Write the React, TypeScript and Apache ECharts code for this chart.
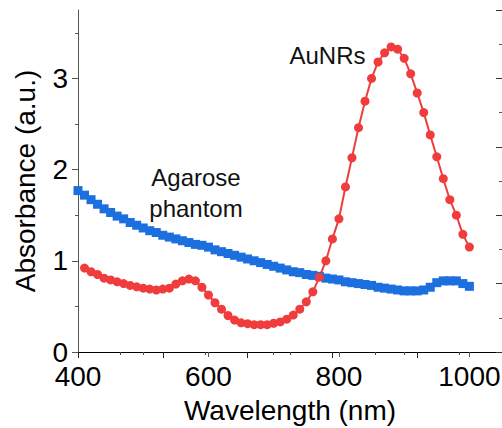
import React, { useEffect, useRef } from "react";
import * as echarts from "echarts";

const FONT = "'Liberation Sans', Arial, sans-serif";

const blueWavelengths = [
  400, 410, 420, 430, 440, 450, 460, 470, 480, 490, 500, 510, 520, 530, 540, 550, 560, 570, 580, 590,
  600, 610, 620, 630, 640, 650, 660, 670, 680, 690, 700, 710, 720, 730, 740, 750, 760, 770, 780, 790,
  800, 810, 820, 830, 840, 850, 860, 870, 880, 890, 900, 910, 920, 930, 940, 950, 960, 970, 980, 990, 1000,
];
const agaroseValues = [
  1.77, 1.72, 1.67, 1.62, 1.57, 1.53, 1.49, 1.46, 1.42, 1.39, 1.36, 1.33, 1.31, 1.28, 1.26, 1.24, 1.22, 1.2, 1.18, 1.17,
  1.15, 1.12, 1.1, 1.08, 1.06, 1.04, 1.02, 1.0, 0.98, 0.96, 0.94, 0.92, 0.9, 0.88, 0.87, 0.85, 0.84, 0.83, 0.81, 0.8,
  0.79, 0.77, 0.76, 0.75, 0.74, 0.73, 0.71, 0.7, 0.69, 0.68, 0.67, 0.67, 0.67, 0.68, 0.71, 0.76, 0.78, 0.78, 0.78, 0.75, 0.72,
];

const redWavelengths = [
  410, 420, 430, 440, 450, 460, 470, 480, 490, 500, 510, 520, 530, 540, 550, 560, 570, 580, 590,
  600, 610, 620, 630, 640, 650, 660, 670, 680, 690, 700, 710, 720, 730, 740, 750, 760, 770, 780, 790,
  800, 810, 820, 830, 840, 850, 860, 870, 880, 890, 900, 910, 920, 930, 940, 950, 960, 970, 980, 990, 1000,
];
const aunrValues = [
  0.92, 0.88, 0.85, 0.81, 0.79, 0.77, 0.75, 0.73, 0.715, 0.7, 0.69, 0.68, 0.69, 0.7, 0.745, 0.78, 0.8, 0.78, 0.71,
  0.625, 0.54, 0.47, 0.4, 0.35, 0.32, 0.31, 0.3, 0.3, 0.3, 0.315, 0.33, 0.36, 0.405, 0.47, 0.55, 0.66, 0.82, 1.0, 1.24,
  1.46, 1.81, 2.13, 2.46, 2.75, 3.0, 3.18, 3.28, 3.345, 3.32, 3.22, 3.05, 2.84, 2.625, 2.38, 2.14, 1.9, 1.67, 1.5, 1.29, 1.15,
];

const xMajorTicks = [400, 600, 800, 1000];
const xMinorTicks = [500, 700, 900];
const yMajorTicks = [0, 1, 2, 3];
const yMinorTicks = [0.5, 1.5, 2.5, 3.5];

const xName = "Wavelength (nm)";
const yName = "Absorbance (a.u.)";
const aunrLabel = "AuNRs";
const agaroseLabel = ["Agarose", "phantom"];

const RED = "#F03C3C";
const BLUE = "#1C6FDE";

export default function App() {
  const ref = useRef<HTMLDivElement>(null);
  useEffect(() => {
    if (!ref.current) return;
    const chart = echarts.init(ref.current, undefined, { renderer: "svg" });
    const axisGray = "#555";
    chart.setOption({
      animation: false,
      backgroundColor: "#fff",
      textStyle: { fontFamily: FONT },
      grid: { left: 78, right: 0, top: 10, bottom: 76, containLabel: false, outerBoundsMode: "none" },
      xAxis: [
        {
          type: "value",
          position: "bottom",
          min: 400,
          max: 1050,
          interval: 200,
          splitLine: { show: false },
          axisLine: { show: true, lineStyle: { color: axisGray, width: 1 } },
          axisTick: { show: true, customValues: xMajorTicks, length: 5, lineStyle: { color: axisGray } },
          axisLabel: {
            customValues: xMajorTicks,
            formatter: (v: number) => String(v),
            margin: 13,
            fontSize: 28,
            lineHeight: 22,
            color: "#000",
            fontFamily: FONT,
          },
          name: xName,
          nameLocation: "middle",
          nameGap: 44,
          nameTextStyle: { fontSize: 28, color: "#000", fontFamily: FONT },
        },
        {
          type: "value",
          position: "bottom",
          min: 400,
          max: 1050,
          interval: 100,
          splitLine: { show: false },
          axisLine: { show: false },
          axisTick: { show: true, customValues: xMinorTicks, length: 3, lineStyle: { color: axisGray } },
          axisLabel: { show: false },
        },
        {
          type: "value",
          position: "top",
          min: 0,
          max: 5,
          interval: 1,
          splitLine: { show: false },
          axisLine: { show: true, lineStyle: { color: "#000", width: 1 } },
          axisTick: { show: true, inside: true, length: 6, lineStyle: { color: "#222" } },
          minorTick: { show: true, splitNumber: 2, length: 3, lineStyle: { color: "#444" } },
          axisLabel: { show: false },
        },
      ],
      yAxis: [
        {
          type: "value",
          position: "left",
          min: 0,
          max: 3.75,
          interval: 1,
          splitLine: { show: false },
          axisLine: { show: true, lineStyle: { color: axisGray, width: 1 } },
          axisTick: { show: true, customValues: yMajorTicks, length: 6, lineStyle: { color: axisGray } },
          axisLabel: {
            customValues: yMajorTicks,
            formatter: (v: number) => String(v),
            margin: 10,
            fontSize: 28,
            lineHeight: 20,
            color: "#000",
            fontFamily: FONT,
          },
          name: yName,
          nameLocation: "middle",
          nameGap: 39,
          nameRotate: 90,
          nameTextStyle: { fontSize: 28, color: "#000", fontFamily: FONT },
        },
        {
          type: "value",
          position: "left",
          min: 0,
          max: 3.75,
          interval: 0.5,
          splitLine: { show: false },
          axisLine: { show: false },
          axisTick: { show: true, customValues: yMinorTicks, length: 3, lineStyle: { color: axisGray } },
          axisLabel: { show: false },
        },
        {
          type: "value",
          position: "right",
          min: 0,
          max: 5,
          interval: 1,
          splitLine: { show: false },
          axisLine: { show: false },
          axisTick: { show: true, inside: true, length: 6, lineStyle: { color: "#333" } },
          minorTick: { show: true, splitNumber: 2, length: 3, lineStyle: { color: "#555" } },
          axisLabel: { show: false },
        },
      ],
      graphic: [
        {
          type: "text",
          x: 327.5,
          y: 55,
          style: { text: aunrLabel, fontSize: 24, fontFamily: FONT, fill: "#111", textAlign: "center", textVerticalAlign: "middle" },
        },
        {
          type: "text",
          x: 196,
          y: 177,
          style: { text: agaroseLabel[0], fontSize: 24, fontFamily: FONT, fill: "#111", textAlign: "center", textVerticalAlign: "middle" },
        },
        {
          type: "text",
          x: 196,
          y: 208,
          style: { text: agaroseLabel[1], fontSize: 24, fontFamily: FONT, fill: "#111", textAlign: "center", textVerticalAlign: "middle" },
        },
      ],
      series: [
        {
          name: "Agarose phantom",
          type: "line",
          xAxisIndex: 0,
          yAxisIndex: 0,
          data: blueWavelengths.map((w, i) => [w, agaroseValues[i]]),
          symbol: "rect",
          symbolSize: 9,
          showAllSymbol: true,
          lineStyle: { color: BLUE, width: 2 },
          itemStyle: { color: BLUE },
        },
        {
          name: "AuNRs",
          type: "line",
          xAxisIndex: 0,
          yAxisIndex: 0,
          data: redWavelengths.map((w, i) => [w, aunrValues[i]]),
          symbol: "circle",
          symbolSize: 9,
          showAllSymbol: true,
          lineStyle: { color: RED, width: 2 },
          itemStyle: { color: RED },
        },
      ],
    });
    return () => chart.dispose();
  }, []);
  return (
    <div
      ref={ref}
      style={{ position: "absolute", left: 0, top: 0, width: 502, height: 428, background: "#fff" }}
    />
  );
}
